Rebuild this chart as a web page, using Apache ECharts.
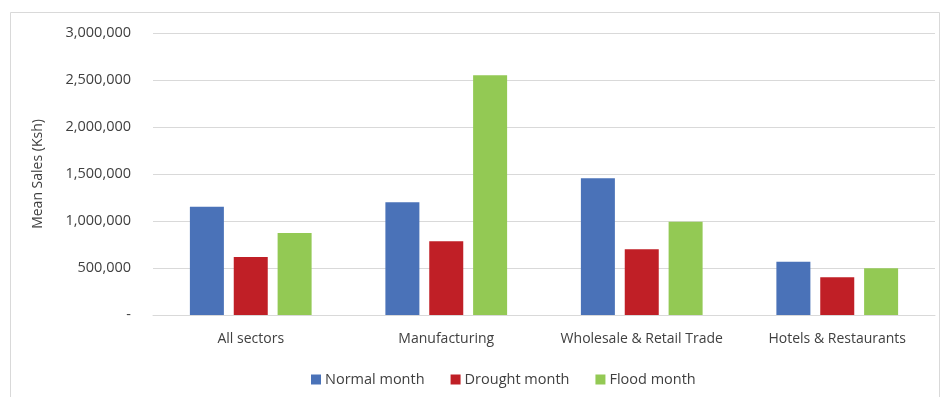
<!DOCTYPE html>
<html>
<head>
<meta charset="utf-8">
<script src="https://cdn.jsdelivr.net/npm/echarts@6/dist/echarts.min.js"></script>
<style>
  html, body { margin: 0; padding: 0; background: #fff; }
  #chart { width: 949px; height: 397px; }
</style>
</head>
<body>
<div id="chart"></div>
<script>
// sectors on the x axis
const sectors = ['All sectors', 'Manufacturing', 'Wholesale & Retail Trade', 'Hotels & Restaurants'];
// mean sales per sector
const normalMonth = [1152000, 1199000, 1454000, 567000];
const droughtMonth = [617000, 784000, 699000, 401000];
const floodMonth = [872000, 2550000, 993000, 497000];
const seriesNames = ['Normal month', 'Drought month', 'Flood month'];

const fontFamily = '"Open Sans", "Noto Sans", sans-serif';
const textColor = '#404040';

function fmt(v) {
    if (v === 0) return '-';
    return String(v).replace(/\B(?=(\d{3})+(?!\d))/g, ',');
}

let myChart = echarts.init(document.getElementById('chart'), null, {renderer: 'canvas'});

myChart.setOption({
    animation: false,
    backgroundColor: '#fff',
    textStyle: {fontFamily: fontFamily},
    graphic: [{
        type: 'rect',
        shape: {x: 10.5, y: 12.5, width: 929, height: 395},
        style: {fill: 'none', stroke: '#d9d9d9', lineWidth: 1},
        silent: true
    }],
    grid: {left: 153, right: 14, top: 33, bottom: 82},
    legend: {
        data: seriesNames,
        left: 306,
        top: 367,
        itemWidth: 10,
        itemHeight: 10,
        itemGap: 26,
        icon: 'rect',
        textStyle: {fontFamily: fontFamily, fontSize: 14.5, color: textColor, padding: [0, 0, 0, -1]}
    },
    xAxis: {
        type: 'category',
        data: sectors,
        axisTick: {show: false},
        axisLine: {lineStyle: {color: '#d9d9d9', width: 1}},
        axisLabel: {fontFamily: fontFamily, fontSize: 14, color: textColor, margin: 17, interval: 0}
    },
    yAxis: {
        type: 'value',
        min: 0,
        max: 3000000,
        interval: 500000,
        name: 'Mean Sales (Ksh)',
        nameLocation: 'middle',
        nameGap: 108,
        nameTextStyle: {fontFamily: fontFamily, fontSize: 14, color: textColor},
        axisLine: {show: false},
        axisTick: {show: false},
        splitLine: {lineStyle: {color: '#d9d9d9', width: 1}},
        axisLabel: {fontFamily: fontFamily, fontSize: 14.5, color: textColor, margin: 22, formatter: fmt}
    },
    series: [
        {
            name: seriesNames[0],
            type: 'bar',
            data: normalMonth,
            barWidth: 34,
            barGap: '29%',
            itemStyle: {color: '#4a72b8'}
        },
        {
            name: seriesNames[1],
            type: 'bar',
            data: droughtMonth,
            barWidth: 34,
            barGap: '29%',
            itemStyle: {color: '#c01f26'}
        },
        {
            name: seriesNames[2],
            type: 'bar',
            data: floodMonth,
            barWidth: 34,
            barGap: '29%',
            itemStyle: {color: '#93c954'}
        }
    ]
});
</script>
</body>
</html>
